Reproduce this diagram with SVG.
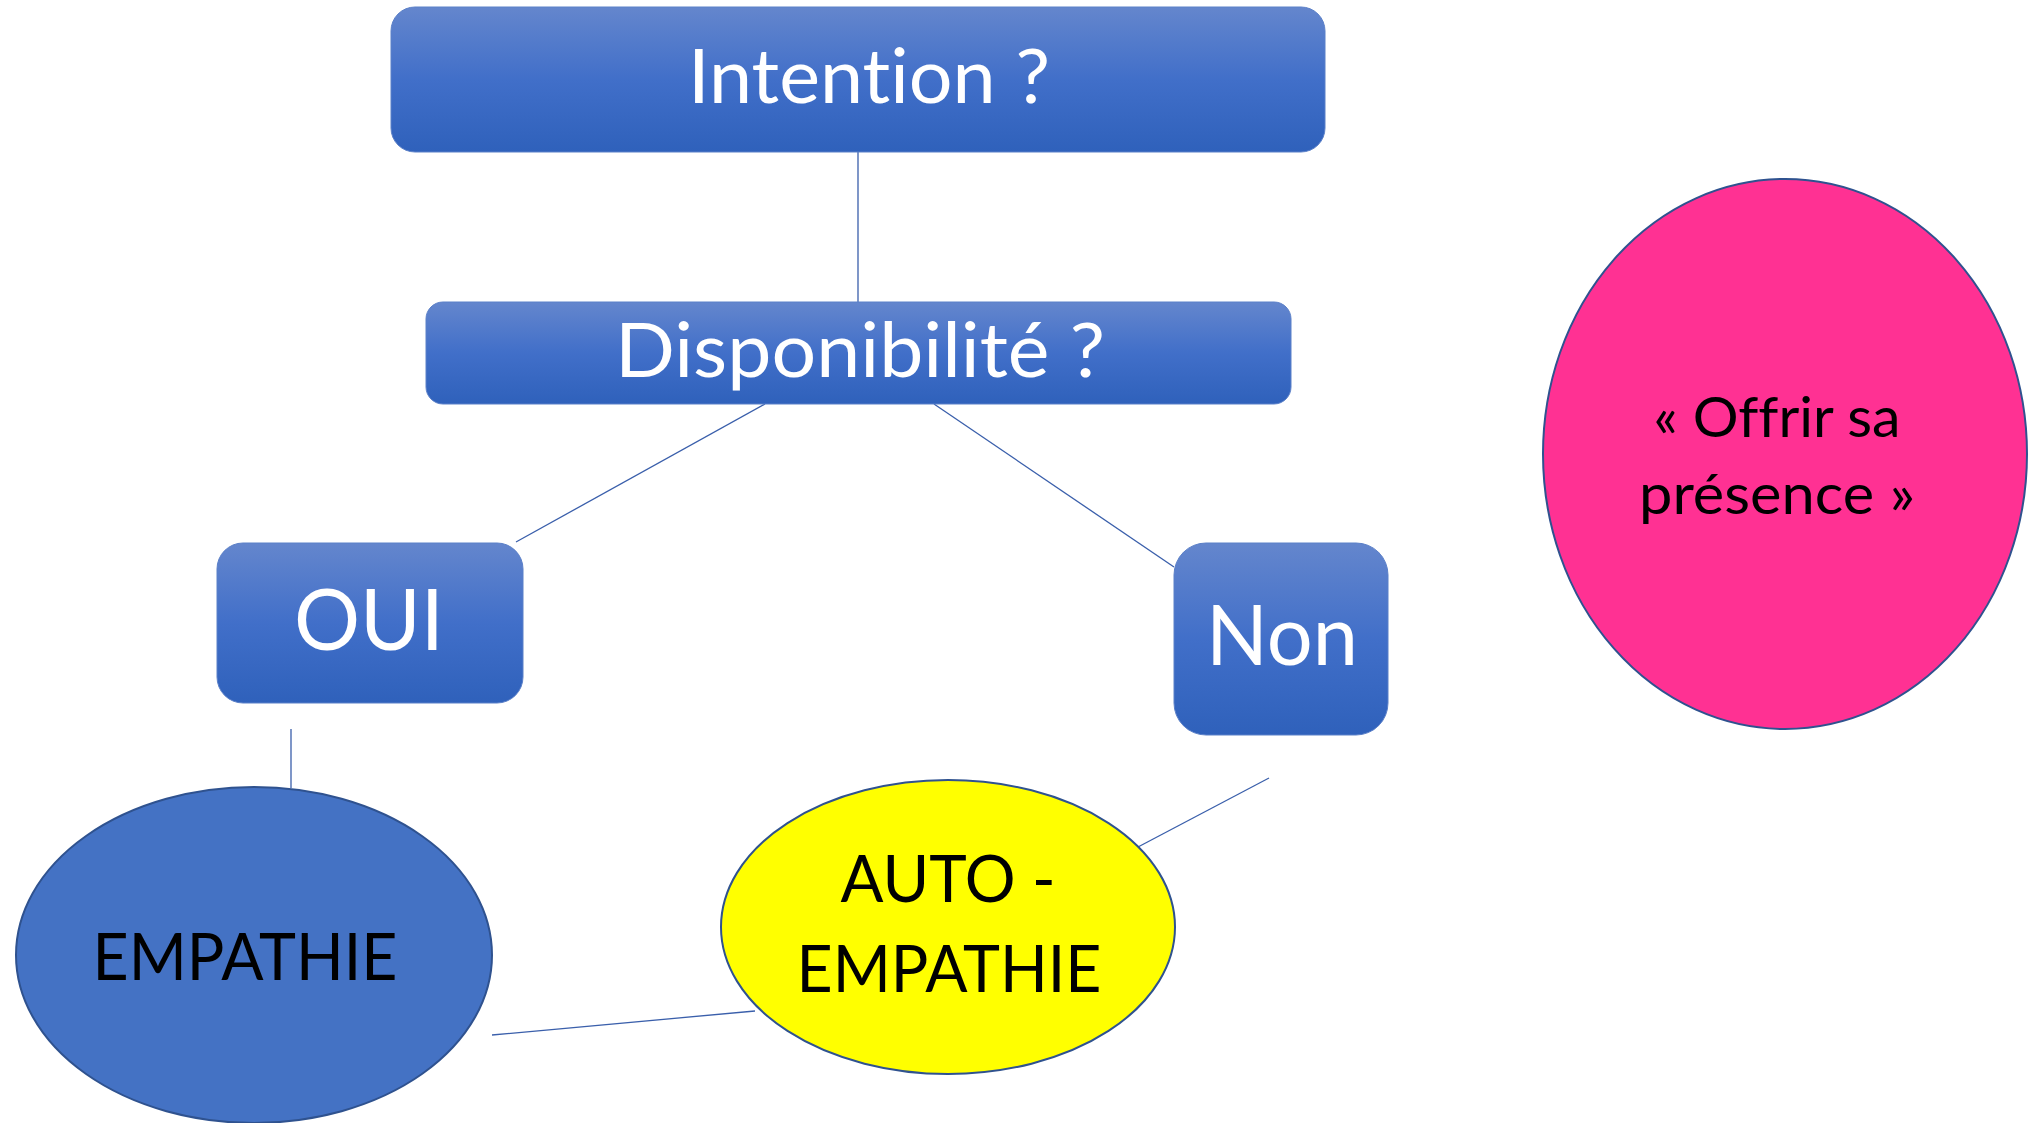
<svg xmlns="http://www.w3.org/2000/svg" width="2037" height="1123" viewBox="0 0 2037 1123">
<defs>
<linearGradient id="bg" x1="0" y1="0" x2="0" y2="1">
<stop offset="0" stop-color="#6486CD"/>
<stop offset="0.5" stop-color="#416FC9"/>
<stop offset="1" stop-color="#2F61BB"/>
</linearGradient>
<style>
.box{fill:url(#bg);stroke:#5B80C8;stroke-width:1}
text{font-variant-ligatures:none;font-feature-settings:"liga" 0,"clig" 0}
.wt{font-family:Lato,"Liberation Sans",sans-serif;fill:#FFFFFF;text-anchor:middle}
.bt{font-family:Lato,"Liberation Sans",sans-serif;fill:#000000;text-anchor:middle}
.con line{stroke:#3A5FAB;stroke-width:1.3;fill:none}
.ell{stroke:#2F528F;stroke-width:2}
</style>
</defs>
<rect width="2037" height="1123" fill="#FFFFFF"/>
<g class="con" id="connectors">
<line x1="858" y1="152" x2="858" y2="302"/>
<line x1="765" y1="404" x2="516" y2="542"/>
<line x1="934" y1="404" x2="1174" y2="567"/>
<line x1="291" y1="729" x2="291" y2="788"/>
<line x1="1269" y1="778" x2="1138" y2="847"/>
<line x1="492" y1="1035" x2="755" y2="1011"/>
</g>
<g id="intention">
<rect class="box" x="391" y="7" width="934" height="145" rx="24" ry="24"/>
<text class="wt" x="869" y="103" font-size="75" textLength="362" lengthAdjust="spacingAndGlyphs">Intention ?</text>
</g>
<g id="disponibilite">
<rect class="box" x="426" y="302" width="865" height="102" rx="17" ry="17"/>
<text class="wt" x="860" y="377" font-size="75" textLength="490" lengthAdjust="spacingAndGlyphs">Disponibilité ?</text>
</g>
<g id="oui">
<rect class="box" x="217" y="543" width="306" height="160" rx="26" ry="26"/>
<text class="wt" x="369" y="650" font-size="85" textLength="150" lengthAdjust="spacingAndGlyphs">OUI</text>
</g>
<g id="non">
<rect class="box" x="1174" y="543" width="214" height="192" rx="32" ry="32"/>
<text class="wt" x="1282" y="665" font-size="83" textLength="152" lengthAdjust="spacingAndGlyphs">Non</text>
</g>
<g id="empathie">
<ellipse class="ell" cx="254" cy="955" rx="238" ry="168" fill="#4472C4"/>
<text class="bt" x="245" y="980" font-size="66" textLength="305" lengthAdjust="spacingAndGlyphs">EMPATHIE</text>
</g>
<g id="auto-empathie">
<ellipse class="ell" cx="948" cy="927" rx="227" ry="147" fill="#FFFF00"/>
<text class="bt" x="948" y="902" font-size="66" textLength="215" lengthAdjust="spacingAndGlyphs">AUTO -</text>
<text class="bt" x="949" y="992" font-size="66" textLength="305" lengthAdjust="spacingAndGlyphs">EMPATHIE</text>
</g>
<g id="offrir">
<ellipse class="ell" cx="1785" cy="454" rx="242" ry="275" fill="#FF3193"/>
<text class="bt" x="1777" y="437" font-size="56" textLength="247" lengthAdjust="spacingAndGlyphs">« Offrir sa</text>
<text class="bt" x="1777" y="514" font-size="56" textLength="276" lengthAdjust="spacingAndGlyphs">présence »</text>
</g>
</svg>
